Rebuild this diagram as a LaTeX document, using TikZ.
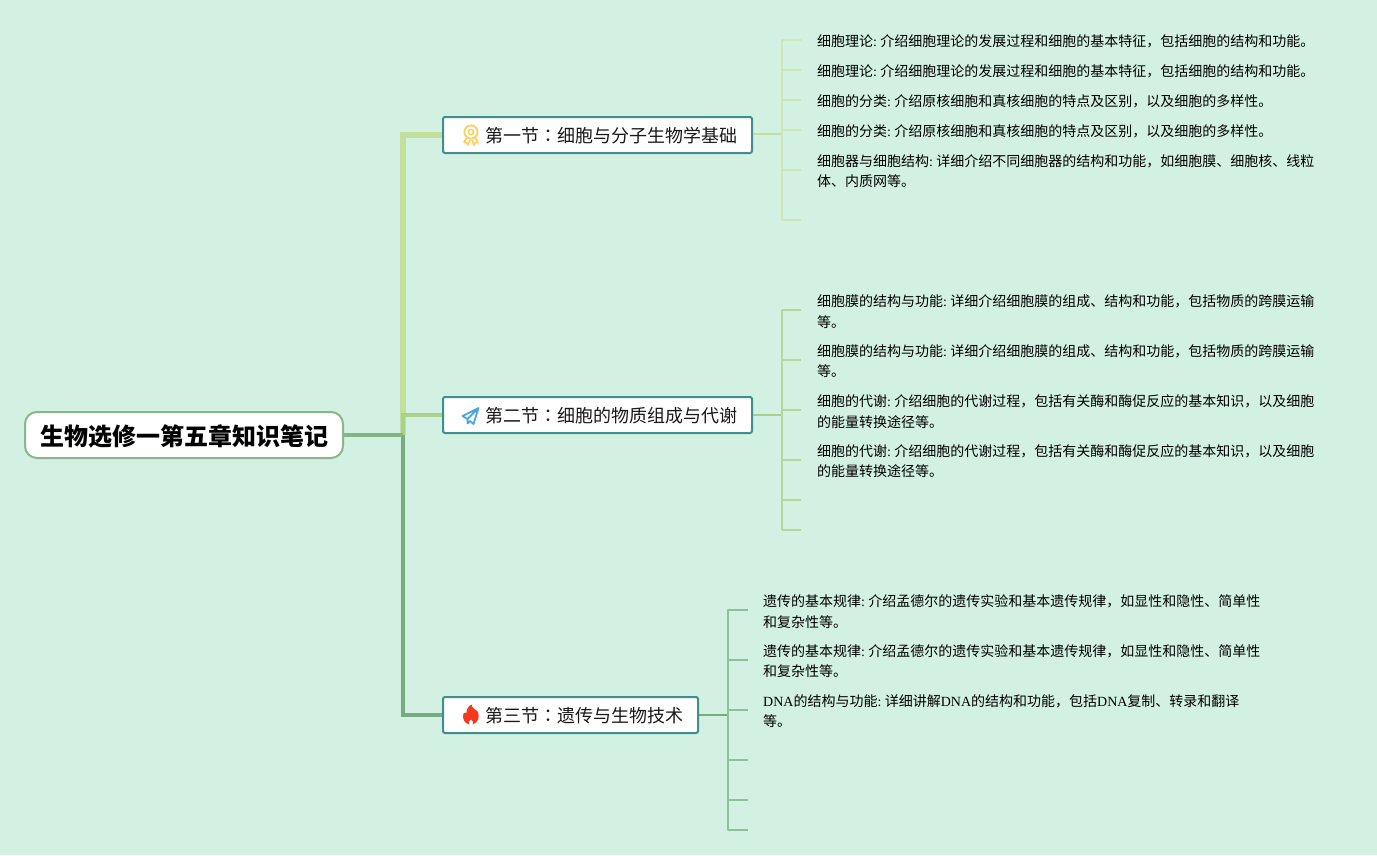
\documentclass[tikz,border=0pt]{standalone}
\usepackage{fontspec}
\setmainfont{Noto Sans CJK SC}
\newfontfamily\latinfont{Liberation Serif}
\newfontfamily\tcfont{Noto Sans CJK TC}
\newcommand\lat[1]{{\latinfont #1}}
\newcommand\colonsp{\lat{:}\hspace{3.4pt}}
\definecolor{bgc}{HTML}{D2F1E2}
\definecolor{rootline}{HTML}{8DB48E}
\definecolor{boxline}{HTML}{3F8F8F}
\definecolor{brA}{HTML}{C3E09A}
\definecolor{brB}{HTML}{A9D18C}
\definecolor{brC}{HTML}{78AB7E}
\definecolor{brR}{HTML}{84B584}
\definecolor{twA}{HTML}{CDE8B4}
\definecolor{twB}{HTML}{B2D89A}
\definecolor{twC}{HTML}{8FC09C}
\definecolor{medal}{HTML}{FFCF5C}
\definecolor{plane}{HTML}{4BA6DC}
\definecolor{flame}{HTML}{F5391C}
\tikzset{
  rootbox/.style={draw=rootline,fill=white,line width=2pt,rounded corners=12pt,minimum width=318pt,minimum height=46pt,inner sep=0pt},
  secbox/.style={draw=boxline,fill=white,line width=2pt,rounded corners=2pt,minimum height=36pt,inner sep=0pt},
  sectext/.style={inner sep=0pt,anchor=west,text=black!90,font=\fontsize{18}{22}\selectfont},
  roottext/.style={inner sep=0pt,text=black,font=\fontsize{24}{28}\selectfont\bfseries},
  leaftext/.style={inner sep=0pt,anchor=west,align=left,text=black,font=\fontsize{14}{20.5}\selectfont},
  twig/.style={line width=1.5pt,line join=round},
  stub/.style={line width=2pt}
}
\begin{document}
\begin{tikzpicture}[x=1pt,y=-1pt]
\fill[bgc] (0,0) rectangle (1377,855);
\useasboundingbox (0,0) rectangle (1377,855);

% nodes
\node[rootbox] (root) at (184,435) {};
\node[roottext] (roott) at (184.5,436.5) {生物选修一第五章知识笔记};
\coordinate (hub) at (403,435);
\node[secbox,minimum width=309pt] (secA) at (597.5,135) {};
\node[secbox,minimum width=309pt] (secB) at (597.5,415) {};
\node[secbox,minimum width=255pt] (secC) at (570.5,715) {};
\node[sectext] (secAt) at (485,136) {第一节{\tcfont ：}细胞与分子生物学基础};
\node[sectext] (secBt) at (485,416) {第二节{\tcfont ：}细胞的物质组成与代谢};
\node[sectext] (secCt) at (485,716) {第三节{\tcfont ：}遗传与生物技术};

% main connectors
\draw[brA,line width=6pt] (hub) -- (hub |- secA.west) -- (secA.west);
\draw[brB,line width=3.5pt] (hub) |- (secB.west);
\draw[brC,line width=4.5pt] (hub) |- (secC.west);
\draw[brR,line width=4.5pt] (root.east) -- (hub);

% section icons
\begin{scope}[shift={(471,135)}]
  \draw[medal,line width=1.8pt] (0,-3) circle (6.6);
  \draw[medal,line width=1.6pt] (0,-3) circle (2.6);
  \draw[medal,line width=1.6pt,line join=round] (-4.5,3) -- (-7,7.5) -- (-4.5,7.5) -- (-3,10) -- (-1,5);
  \draw[medal,line width=1.6pt,line join=round] (4.5,3) -- (7,7.5) -- (4.5,7.5) -- (3,10) -- (1,5);
\end{scope}
\begin{scope}[shift={(470.5,416)}]
  \draw[plane,line width=1.8pt,line join=round] (8,-8) -- (-8,0) -- (-3,3) -- (8,-8) -- (3,8) -- (-0.5,5) -- (-3,7.5) -- (-3,3);
\end{scope}
\begin{scope}[shift={(471,715)}]
  \fill[flame] (0.5,-10.5) .. controls (1,-6) and (6,-5) .. (7,-3)
    .. controls (9,2) and (7,8) .. (1.5,9.5)
    .. controls (3,8) and (2.5,6.5) .. (0,4.5)
    .. controls (-2.5,6.5) and (-3,8) .. (-1.5,9.5)
    .. controls (-7,8.5) and (-9,3) .. (-7.5,-1.5)
    .. controls (-6.5,-3) and (-5,-2.5) .. (-4.5,-2)
    .. controls (-4.5,-5) and (-3,-9) .. (0.5,-10.5) -- cycle;
\end{scope}

% section 1
\coordinate (busA) at (782,134);
\foreach \n/\y in {a1/40,a2/70,a3/100,a4/130,a5/170,a6/220} \coordinate (\n) at (801,\y);
\draw[brA,stub] (secA.east |- busA) -- (busA);
\draw[twA,twig] (a6) -| (busA |- a1) -- (a1);
\foreach \n in {a2,a3,a4,a5} \draw[twA,twig] (busA |- \n) -- (\n);
\node[leaftext] (ta1) at (817,41) {细胞理论\colonsp 介绍细胞理论的发展过程和细胞的基本特征，包括细胞的结构和功能。};
\node[leaftext] (ta2) at (817,71) {细胞理论\colonsp 介绍细胞理论的发展过程和细胞的基本特征，包括细胞的结构和功能。};
\node[leaftext] (ta3) at (817,101) {细胞的分类\colonsp 介绍原核细胞和真核细胞的特点及区别，以及细胞的多样性。};
\node[leaftext] (ta4) at (817,131) {细胞的分类\colonsp 介绍原核细胞和真核细胞的特点及区别，以及细胞的多样性。};
\node[leaftext] (ta5) at (817,171) {细胞器与细胞结构\colonsp 详细介绍不同细胞器的结构和功能，如细胞膜、细胞核、线粒\\体、内质网等。};

% section 2
\coordinate (busB) at (782,415);
\foreach \n/\y in {b1/310,b2/360,b3/410,b4/460,b5/500,b6/530} \coordinate (\n) at (801,\y);
\draw[brB,stub] (secB.east) -- (busB);
\draw[twB,twig] (b6) -| (busB |- b1) -- (b1);
\foreach \n in {b2,b3,b4,b5} \draw[twB,twig] (busB |- \n) -- (\n);
\node[leaftext] (tb1) at (817,311.5) {细胞膜的结构与功能\colonsp 详细介绍细胞膜的组成、结构和功能，包括物质的跨膜运输\\等。};
\node[leaftext] (tb2) at (817,361) {细胞膜的结构与功能\colonsp 详细介绍细胞膜的组成、结构和功能，包括物质的跨膜运输\\等。};
\node[leaftext] (tb3) at (817,411.5) {细胞的代谢\colonsp 介绍细胞的代谢过程，包括有关酶和酶促反应的基本知识，以及细胞\\的能量转换途径等。};
\node[leaftext] (tb4) at (817,461) {细胞的代谢\colonsp 介绍细胞的代谢过程，包括有关酶和酶促反应的基本知识，以及细胞\\的能量转换途径等。};

% section 3
\coordinate (busC) at (728,715);
\foreach \n/\y in {c1/610,c2/660,c3/710,c4/760,c5/800,c6/830} \coordinate (\n) at (748,\y);
\draw[brC,stub] (secC.east) -- (busC);
\draw[twC,twig] (c6) -| (busC |- c1) -- (c1);
\foreach \n in {c2,c3,c4,c5} \draw[twC,twig] (busC |- \n) -- (\n);
\node[leaftext] (tc1) at (763,611.5) {遗传的基本规律\colonsp 介绍孟德尔的遗传实验和基本遗传规律，如显性和隐性、简单性\\和复杂性等。};
\node[leaftext] (tc2) at (763,661) {遗传的基本规律\colonsp 介绍孟德尔的遗传实验和基本遗传规律，如显性和隐性、简单性\\和复杂性等。};
\node[leaftext] (tc3) at (763,711) {\lat{DNA}的结构与功能\colonsp 详细讲解\lat{DNA}的结构和功能，包括\lat{DNA}复制、转录和翻译\\等。};
\end{tikzpicture}
\end{document}
